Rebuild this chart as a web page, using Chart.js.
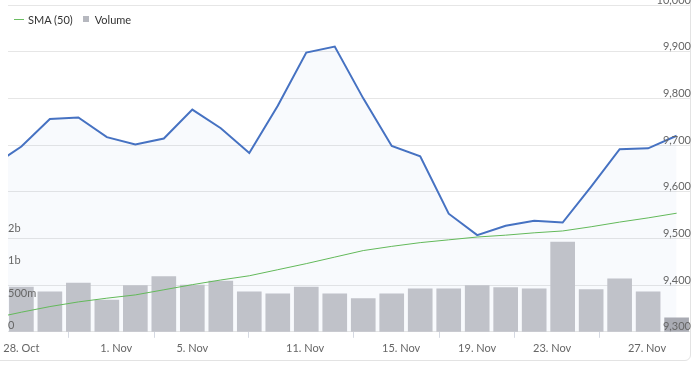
<!DOCTYPE html>
<html>
<head>
<meta charset="utf-8">
<script src="https://cdn.jsdelivr.net/npm/chart.js@4"></script>
<style>
  body { margin: 0; background: #fff; overflow: hidden; }
  #card { position: absolute; left: -20px; top: -20px; width: 711px; height: 381px; border: 1px solid #e3e3e3; border-radius: 6px; box-sizing: border-box; }
  #wrap { position: absolute; left: 0; top: 0; width: 697px; height: 367px; }
  #legend { position: absolute; left: 14px; top: 11px; font: 11px Lato, sans-serif; color: #333; white-space: nowrap; }
  #legend span { display: inline-block; vertical-align: middle; }
  .sw-line { width: 10px; height: 1px; background: #6bbd62; margin-right: 4px; }
  .sw-box { width: 6px; height: 6px; background: #b6b8bf; margin: 0 6px 0 10px; }
</style>
</head>
<body>
<div id="card"></div>
<div id="wrap"><canvas id="chart"></canvas></div>
<div id="legend"><span class="sw-line"></span><span>SMA (50)</span><span class="sw-box"></span><span>Volume</span></div>
<script>
// trading days, first one sits just left of the visible range
const days = ['25. Oct', '28. Oct', '29. Oct', '30. Oct', '31. Oct', '1. Nov', '4. Nov', '5. Nov', '6. Nov', '7. Nov', '8. Nov',
  '11. Nov', '12. Nov', '13. Nov', '14. Nov', '15. Nov', '18. Nov', '19. Nov', '20. Nov', '21. Nov', '22. Nov',
  '25. Nov', '26. Nov', '27. Nov', '28. Nov'];
const price = [9656, 9697, 9756, 9759, 9717, 9701, 9714, 9776, 9736, 9683, 9784, 9898, 9911, 9800, 9698, 9676,
  9553, 9507, 9527, 9538, 9534, 9611, 9691, 9693, 9720];
const sma50 = [9329, 9342, 9354, 9364, 9372, 9379, 9390, 9401, 9411, 9420, 9433, 9446, 9460, 9474, 9483, 9491,
  9497, 9503, 9507, 9512, 9516, 9525, 9535, 9544, 9554];
const volume = [null, 690e6, 615e6, 750e6, 490e6, 710e6, 850e6, 720e6, 780e6, 615e6, 585e6, 690e6, 585e6, 510e6,
  585e6, 660e6, 660e6, 710e6, 680e6, 660e6, 1380e6, 650e6, 815e6, 615e6, 215e6];

// x axis ticks (ordinal positions, 28. Oct = 0)
const xTickPos = [0, 3.33, 6, 9.96, 13.33, 16, 18.63, 21.96];
const xTickLabels = ['28. Oct', '1. Nov', '5. Nov', '11. Nov', '15. Nov', '19. Nov', '23. Nov', '27. Nov'];
const volTicks = [0, 500e6, 1000e6, 1500e6];

const pts = (arr) => days.map((d, i) => ({ x: i - 1, y: arr[i] }));
const font = { family: 'Lato, sans-serif', size: 11 };

function volLabel(v) {
  if (v === 0) return '0';
  if (v < 1e9) return Math.round(v / 1e6) + 'm';
  return Math.round(v / 1e9) + 'b';
}

new Chart(document.getElementById('chart'), {
  type: 'bar',
  data: {
    datasets: [
      {
        type: 'line',
        label: 'Price',
        data: pts(price),
        yAxisID: 'price',
        borderColor: '#4672c2',
        borderWidth: 2,
        backgroundColor: 'rgba(74,118,192,0.04)',
        fill: 'start',
        pointRadius: 0,
        tension: 0,
        order: 1,
      },
      {
        type: 'line',
        label: 'SMA (50)',
        data: pts(sma50),
        yAxisID: 'price',
        borderColor: '#63b95a',
        borderWidth: 1,
        pointRadius: 0,
        fill: false,
        order: 2,
      },
      {
        type: 'bar',
        label: 'Volume',
        data: pts(volume),
        yAxisID: 'vol',
        backgroundColor: (ctx) => ctx.dataIndex === volume.length - 1 ? '#a9abb3' : '#c0c2c9',
        barThickness: 24,
        order: 3,
      },
    ],
  },
  options: {
    responsive: true,
    maintainAspectRatio: false,
    animation: false,
    layout: { padding: { left: 8, right: 5, top: 5, bottom: 8 } },
    plugins: {
      legend: { display: false },
      tooltip: { enabled: false },
      filler: { drawTime: 'beforeDatasetsDraw' },
    },
    scales: {
      x: {
        type: 'linear',
        min: -0.47,
        max: 23.47,
        offset: false,
        afterBuildTicks: (s) => { s.ticks = xTickPos.map((v) => ({ value: v })); },
        afterFit: (s) => { s.paddingLeft = 0; s.paddingRight = 0; },
        grid: { drawOnChartArea: false, drawTicks: true, tickLength: 6, color: '#d5d9e2' },
        border: { display: false },
        ticks: {
          autoSkip: false,
          maxRotation: 0,
          padding: 4,
          color: '#666',
          font,
          callback: (v, i) => xTickLabels[i],
        },
      },
      price: {
        position: 'right',
        min: 9300,
        max: 10000,
        afterFit: (s) => { s.paddingTop = 0; s.paddingBottom = 0; },
        grid: { color: '#e6e6e6', drawTicks: false },
        border: { display: false },
        ticks: {
          z: 1,
          stepSize: 100,
          mirror: true,
          padding: 1,
          labelOffset: -5,
          color: '#666',
          font,
          callback: (v) => v.toLocaleString('en-US'),
        },
      },
      vol: {
        position: 'left',
        min: 0,
        max: 5.03e9,
        afterBuildTicks: (s) => { s.ticks = volTicks.map((v) => ({ value: v })); },
        afterFit: (s) => { s.paddingTop = 0; s.paddingBottom = 0; },
        grid: { display: false, drawTicks: false },
        border: { display: false },
        ticks: {
          z: 1,
          mirror: true,
          padding: 0,
          labelOffset: -6,
          color: '#666',
          font,
          callback: (v) => volLabel(v),
        },
      },
    },
  },
});
</script>
</body>
</html>
